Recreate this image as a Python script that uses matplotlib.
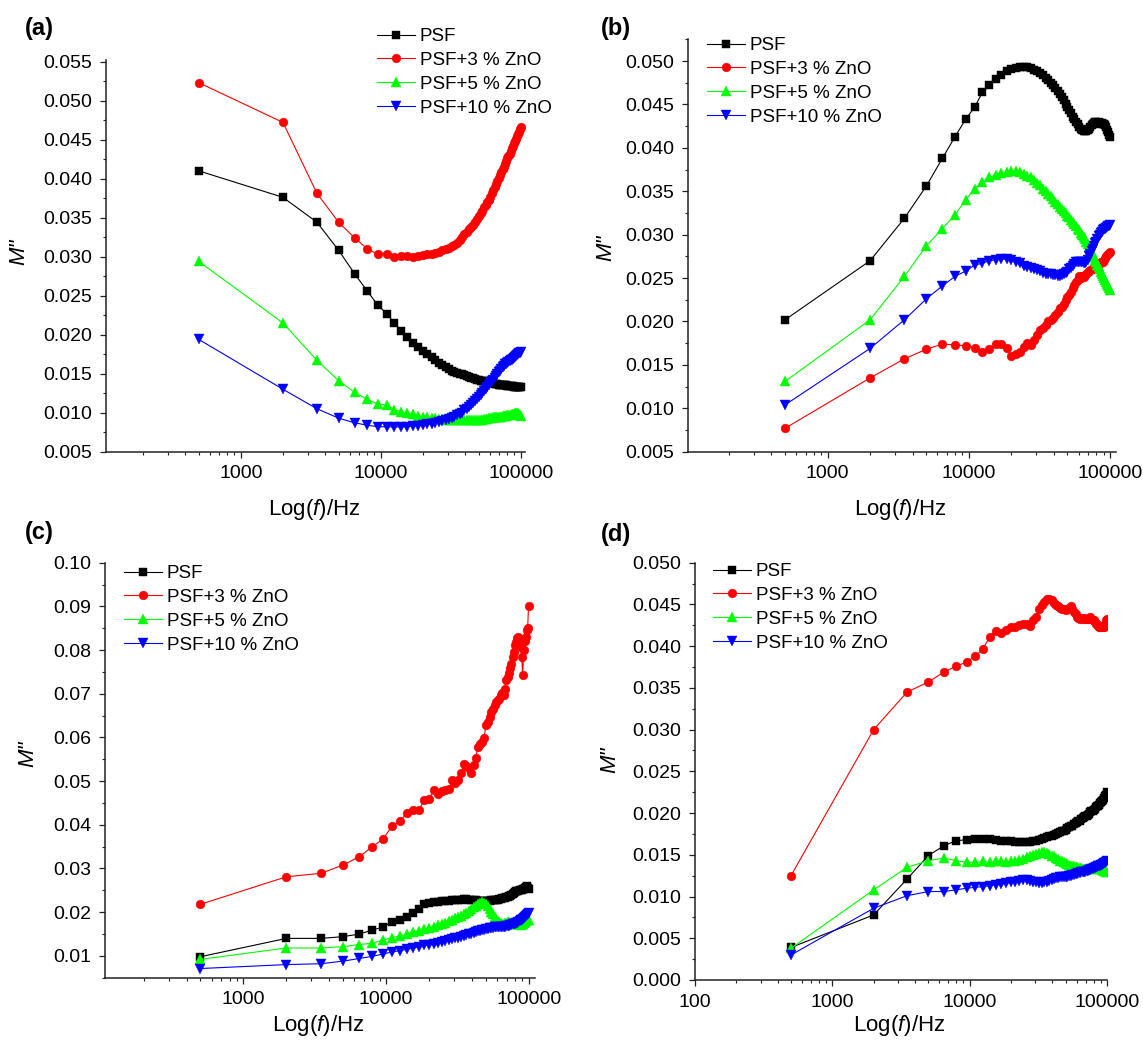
import matplotlib
matplotlib.use("Agg")
import matplotlib.pyplot as plt
from matplotlib.ticker import LogLocator, MultipleLocator, FormatStrFormatter, FuncFormatter, NullFormatter

plt.rcParams['font.family'] = ['Liberation Sans', 'DejaVu Sans']
plt.rcParams['mathtext.fontset'] = 'custom'
plt.rcParams['mathtext.rm'] = 'Liberation Sans'
plt.rcParams['mathtext.it'] = 'Liberation Sans:italic'

freq = [500, 2000, 3500, 5000, 6500, 8000, 9500, 11000, 12500, 14000,
        15500, 17000, 18500, 20000, 21500, 23000, 24500, 26000, 27500, 29000,
        30500, 32000, 33500, 35000, 36500, 38000, 39500, 41000, 42500, 44000,
        45500, 47000, 48500, 50000, 51500, 53000, 54500, 56000, 57500, 59000,
        60500, 62000, 63500, 65000, 66500, 68000, 69500, 71000, 72500, 74000,
        75500, 77000, 78500, 80000, 81500, 83000, 84500, 86000, 87500, 89000,
        90500, 92000, 93500, 95000, 96500, 98000, 99500]

series_names = ["PSF", "PSF+3 % ZnO", "PSF+5 % ZnO", "PSF+10 % ZnO"]

# ---------------- panel (a)
a_psf = [0.0410, 0.0376, 0.0344, 0.0308, 0.0278, 0.0256, 0.0238, 0.0227, 0.0215, 0.0205,
         0.0197, 0.0189, 0.0184, 0.0179, 0.0175, 0.0171, 0.0167, 0.0164, 0.0161, 0.0158,
         0.0156, 0.0154, 0.0152, 0.0151, 0.0150, 0.0149, 0.0148, 0.0147, 0.0146, 0.0145,
         0.0144, 0.0143, 0.0142, 0.0142, 0.0141, 0.0141, 0.0140, 0.0140, 0.0139, 0.0139,
         0.0138, 0.0138, 0.0138, 0.0137, 0.0137, 0.0137, 0.0136, 0.0136, 0.0136, 0.0135,
         0.0135, 0.0135, 0.0135, 0.0134, 0.0134, 0.0134, 0.0134, 0.0134, 0.0134, 0.0133,
         0.0133, 0.0133, 0.0133, 0.0133, 0.0133, 0.0133, 0.0133]
a_zno3 = [0.0523, 0.0472, 0.0381, 0.0344, 0.0324, 0.0310, 0.0303, 0.0304, 0.0299, 0.0301,
          0.0301, 0.0300, 0.0301, 0.0302, 0.0303, 0.0304, 0.0305, 0.0306, 0.0308, 0.0310,
          0.0311, 0.0313, 0.0315, 0.0318, 0.0321, 0.0325, 0.0329, 0.0332, 0.0335, 0.0338,
          0.0341, 0.0344, 0.0348, 0.0352, 0.0356, 0.0359, 0.0363, 0.0366, 0.0370, 0.0373,
          0.0377, 0.0381, 0.0385, 0.0389, 0.0393, 0.0397, 0.0401, 0.0405, 0.0408, 0.0412,
          0.0415, 0.0419, 0.0422, 0.0426, 0.0429, 0.0432, 0.0436, 0.0439, 0.0442, 0.0445,
          0.0448, 0.0451, 0.0454, 0.0457, 0.0460, 0.0463, 0.0466]
a_zno5 = [0.0294, 0.0215, 0.0167, 0.0141, 0.0126, 0.0117, 0.0111, 0.0110, 0.0104, 0.0101,
          0.0099, 0.0098, 0.0096, 0.0095, 0.0094, 0.0093, 0.0093, 0.0092, 0.0092, 0.0091,
          0.0091, 0.0091, 0.0090, 0.0090, 0.0090, 0.0090, 0.0090, 0.0090, 0.0090, 0.0090,
          0.0090, 0.0090, 0.0091, 0.0091, 0.0091, 0.0091, 0.0092, 0.0092, 0.0092, 0.0093,
          0.0093, 0.0093, 0.0094, 0.0094, 0.0094, 0.0095, 0.0095, 0.0095, 0.0095, 0.0096,
          0.0096, 0.0096, 0.0096, 0.0097, 0.0097, 0.0097, 0.0097, 0.0098, 0.0098, 0.0098,
          0.0099, 0.0099, 0.0100, 0.0099, 0.0098, 0.0097, 0.0096]
a_zno10 = [0.0194, 0.0130, 0.0105, 0.0093, 0.0087, 0.0084, 0.0082, 0.0082, 0.0082, 0.0082,
           0.0082, 0.0083, 0.0083, 0.0084, 0.0085, 0.0086, 0.0087, 0.0088, 0.0089, 0.0090,
           0.0092, 0.0093, 0.0095, 0.0097, 0.0098, 0.0100, 0.0103, 0.0105, 0.0107, 0.0110,
           0.0112, 0.0115, 0.0117, 0.0120, 0.0123, 0.0125, 0.0128, 0.0130, 0.0133, 0.0135,
           0.0138, 0.0140, 0.0142, 0.0144, 0.0147, 0.0149, 0.0152, 0.0154, 0.0156, 0.0158,
           0.0160, 0.0162, 0.0163, 0.0164, 0.0165, 0.0166, 0.0167, 0.0168, 0.0169, 0.0170,
           0.0172, 0.0173, 0.0174, 0.0175, 0.0176, 0.0177, 0.0178]

# ---------------- panel (b)
b_psf = [0.0202, 0.0270, 0.0319, 0.0356, 0.0388, 0.0413, 0.0433, 0.0447, 0.0464, 0.0472,
         0.0479, 0.0484, 0.0488, 0.0491, 0.0492, 0.0493, 0.0493, 0.0493, 0.0492, 0.0490,
         0.0488, 0.0486, 0.0484, 0.0481, 0.0478, 0.0475, 0.0472, 0.0469, 0.0466, 0.0462,
         0.0458, 0.0455, 0.0451, 0.0447, 0.0443, 0.0440, 0.0436, 0.0433, 0.0430, 0.0427,
         0.0424, 0.0422, 0.0420, 0.0419, 0.0419, 0.0419, 0.0420, 0.0422, 0.0424, 0.0426,
         0.0428, 0.0429, 0.0430, 0.0430, 0.0429, 0.0430, 0.0429, 0.0428, 0.0429, 0.0428,
         0.0427, 0.0426, 0.0424, 0.0421, 0.0418, 0.0415, 0.0413]
b_zno3 = [0.0077, 0.0135, 0.0157, 0.0168, 0.0174, 0.0173, 0.0172, 0.0170, 0.0165, 0.0168,
          0.0174, 0.0174, 0.0169, 0.0160, 0.0163, 0.0165, 0.0171, 0.0175, 0.0173, 0.0179,
          0.0184, 0.0190, 0.0193, 0.0196, 0.0200, 0.0202, 0.0204, 0.0207, 0.0211, 0.0215,
          0.0217, 0.0220, 0.0225, 0.0228, 0.0230, 0.0234, 0.0238, 0.0242, 0.0246, 0.0248,
          0.0252, 0.0250, 0.0252, 0.0251, 0.0253, 0.0255, 0.0257, 0.0258, 0.0259, 0.0260,
          0.0261, 0.0263, 0.0263, 0.0264, 0.0265, 0.0266, 0.0267, 0.0268, 0.0268, 0.0269,
          0.0271, 0.0273, 0.0275, 0.0276, 0.0278, 0.0279, 0.0280]
b_zno5 = [0.0131, 0.0202, 0.0252, 0.0287, 0.0307, 0.0323, 0.0340, 0.0353, 0.0361, 0.0366,
          0.0369, 0.0371, 0.0372, 0.0373, 0.0373, 0.0372, 0.0370, 0.0368, 0.0366, 0.0363,
          0.0360, 0.0357, 0.0353, 0.0350, 0.0347, 0.0344, 0.0341, 0.0338, 0.0335, 0.0332,
          0.0330, 0.0327, 0.0325, 0.0322, 0.0320, 0.0317, 0.0315, 0.0312, 0.0310, 0.0307,
          0.0305, 0.0302, 0.0300, 0.0297, 0.0295, 0.0292, 0.0289, 0.0286, 0.0283, 0.0280,
          0.0277, 0.0274, 0.0271, 0.0268, 0.0265, 0.0263, 0.0260, 0.0257, 0.0255, 0.0252,
          0.0250, 0.0248, 0.0245, 0.0243, 0.0241, 0.0239, 0.0236]
b_zno10 = [0.0104, 0.0169, 0.0202, 0.0226, 0.0241, 0.0252, 0.0258, 0.0265, 0.0267, 0.0270,
           0.0271, 0.0272, 0.0272, 0.0271, 0.0269, 0.0267, 0.0264, 0.0263, 0.0262, 0.0260,
           0.0259, 0.0258, 0.0256, 0.0255, 0.0255, 0.0255, 0.0254, 0.0253, 0.0252, 0.0252,
           0.0253, 0.0255, 0.0256, 0.0257, 0.0260, 0.0262, 0.0264, 0.0266, 0.0268, 0.0269,
           0.0269, 0.0269, 0.0268, 0.0267, 0.0267, 0.0268, 0.0271, 0.0275, 0.0278, 0.0281,
           0.0284, 0.0287, 0.0290, 0.0292, 0.0295, 0.0298, 0.0300, 0.0302, 0.0303, 0.0305,
           0.0306, 0.0307, 0.0308, 0.0309, 0.0310, 0.0310, 0.0311]

# ---------------- panel (c)
c_psf = [0.0098, 0.0140, 0.0140, 0.0144, 0.0150, 0.0159, 0.0166, 0.0178, 0.0182, 0.0189,
         0.0197, 0.0208, 0.0218, 0.0222, 0.0224, 0.0224, 0.0225, 0.0226, 0.0225, 0.0227,
         0.0228, 0.0228, 0.0229, 0.0230, 0.0230, 0.0229, 0.0228, 0.0227, 0.0227, 0.0226,
         0.0226, 0.0225, 0.0225, 0.0225, 0.0226, 0.0226, 0.0227, 0.0227, 0.0228, 0.0228,
         0.0229, 0.0230, 0.0231, 0.0232, 0.0233, 0.0233, 0.0234, 0.0235, 0.0236, 0.0238,
         0.0240, 0.0242, 0.0245, 0.0247, 0.0248, 0.0248, 0.0249, 0.0250, 0.0250, 0.0251,
         0.0252, 0.0254, 0.0256, 0.0258, 0.0259, 0.0256, 0.0253]
c_zno3 = [0.0218, 0.0281, 0.0289, 0.0308, 0.0327, 0.0350, 0.0367, 0.0397, 0.0408, 0.0427,
          0.0434, 0.0435, 0.0456, 0.0460, 0.0479, 0.0470, 0.0478, 0.0479, 0.0481, 0.0502,
          0.0495, 0.0502, 0.0518, 0.0539, 0.0534, 0.0529, 0.0518, 0.0537, 0.0554, 0.0579,
          0.0585, 0.0590, 0.0598, 0.0628, 0.0636, 0.0647, 0.0659, 0.0666, 0.0674, 0.0682,
          0.0685, 0.0689, 0.0697, 0.0701, 0.0697, 0.0712, 0.0731, 0.0739, 0.0747, 0.0758,
          0.0769, 0.0785, 0.0796, 0.0811, 0.0819, 0.0827, 0.0831, 0.0819, 0.0808, 0.0785,
          0.0742, 0.0800, 0.0820, 0.0830, 0.0845, 0.0850, 0.0902]
c_zno5 = [0.0092, 0.0118, 0.0118, 0.0121, 0.0126, 0.0129, 0.0136, 0.0142, 0.0145, 0.0150,
          0.0155, 0.0158, 0.0161, 0.0164, 0.0167, 0.0170, 0.0173, 0.0176, 0.0179, 0.0182,
          0.0186, 0.0189, 0.0192, 0.0196, 0.0199, 0.0203, 0.0207, 0.0211, 0.0215, 0.0219,
          0.0222, 0.0224, 0.0222, 0.0218, 0.0213, 0.0207, 0.0201, 0.0195, 0.0189, 0.0184,
          0.0180, 0.0177, 0.0175, 0.0174, 0.0174, 0.0175, 0.0176, 0.0177, 0.0177, 0.0176,
          0.0175, 0.0174, 0.0173, 0.0172, 0.0172, 0.0173, 0.0173, 0.0172, 0.0171, 0.0172,
          0.0173, 0.0175, 0.0177, 0.0179, 0.0181, 0.0182, 0.0183]
c_zno10 = [0.0071, 0.0080, 0.0082, 0.0088, 0.0094, 0.0099, 0.0104, 0.0109, 0.0112, 0.0115,
           0.0118, 0.0121, 0.0124, 0.0126, 0.0128, 0.0130, 0.0132, 0.0134, 0.0136, 0.0138,
           0.0140, 0.0141, 0.0143, 0.0145, 0.0147, 0.0149, 0.0151, 0.0153, 0.0155, 0.0156,
           0.0158, 0.0159, 0.0160, 0.0161, 0.0162, 0.0163, 0.0164, 0.0164, 0.0165, 0.0165,
           0.0166, 0.0166, 0.0166, 0.0167, 0.0167, 0.0167, 0.0168, 0.0168, 0.0169, 0.0170,
           0.0171, 0.0172, 0.0173, 0.0174, 0.0175, 0.0176, 0.0177, 0.0179, 0.0181, 0.0183,
           0.0185, 0.0187, 0.0189, 0.0191, 0.0193, 0.0195, 0.0197]

# ---------------- panel (d)
d_psf = [0.0039, 0.0078, 0.0121, 0.0149, 0.0161, 0.0167, 0.0168, 0.0169, 0.0169, 0.0169,
         0.0168, 0.0167, 0.0166, 0.0166, 0.0165, 0.0165, 0.0165, 0.0165, 0.0165, 0.0166,
         0.0167, 0.0168, 0.0169, 0.0170, 0.0171, 0.0172, 0.0173, 0.0174, 0.0175, 0.0176,
         0.0177, 0.0178, 0.0179, 0.0180, 0.0182, 0.0183, 0.0184, 0.0185, 0.0187, 0.0188,
         0.0189, 0.0190, 0.0191, 0.0193, 0.0194, 0.0195, 0.0196, 0.0197, 0.0198, 0.0199,
         0.0201, 0.0202, 0.0203, 0.0204, 0.0205, 0.0207, 0.0208, 0.0209, 0.0210, 0.0212,
         0.0213, 0.0215, 0.0216, 0.0218, 0.0220, 0.0222, 0.0225]
d_zno3 = [0.0125, 0.0300, 0.0345, 0.0357, 0.0369, 0.0376, 0.0381, 0.0388, 0.0397, 0.0411,
          0.0418, 0.0416, 0.0419, 0.0423, 0.0423, 0.0425, 0.0427, 0.0427, 0.0424, 0.0431,
          0.0435, 0.0444, 0.0449, 0.0453, 0.0456, 0.0457, 0.0455, 0.0452, 0.0449, 0.0448,
          0.0446, 0.0444, 0.0445, 0.0443, 0.0444, 0.0446, 0.0448, 0.0445, 0.0441, 0.0438,
          0.0435, 0.0434, 0.0433, 0.0434, 0.0433, 0.0434, 0.0433, 0.0432, 0.0433, 0.0434,
          0.0435, 0.0433, 0.0431, 0.0431, 0.0429, 0.0427, 0.0427, 0.0424, 0.0423, 0.0423,
          0.0423, 0.0424, 0.0423, 0.0423, 0.0427, 0.0431, 0.0433]
d_zno5 = [0.0038, 0.0108, 0.0135, 0.0143, 0.0146, 0.0143, 0.0141, 0.0141, 0.0142, 0.0141,
          0.0142, 0.0142, 0.0141, 0.0142, 0.0143, 0.0144, 0.0145, 0.0147, 0.0148, 0.0150,
          0.0151, 0.0152, 0.0153, 0.0153, 0.0152, 0.0151, 0.0149, 0.0148, 0.0146, 0.0145,
          0.0143, 0.0142, 0.0141, 0.0140, 0.0139, 0.0138, 0.0137, 0.0136, 0.0136, 0.0135,
          0.0135, 0.0134, 0.0134, 0.0134, 0.0133, 0.0133, 0.0133, 0.0133, 0.0133, 0.0133,
          0.0133, 0.0134, 0.0134, 0.0134, 0.0134, 0.0134, 0.0134, 0.0134, 0.0133, 0.0133,
          0.0133, 0.0132, 0.0132, 0.0131, 0.0131, 0.0130, 0.0130]
d_zno10 = [0.0030, 0.0086, 0.0101, 0.0106, 0.0106, 0.0108, 0.0110, 0.0111, 0.0112, 0.0113,
           0.0114, 0.0115, 0.0116, 0.0117, 0.0118, 0.0119, 0.0120, 0.0120, 0.0119, 0.0118,
           0.0117, 0.0116, 0.0116, 0.0117, 0.0118, 0.0119, 0.0120, 0.0121, 0.0122, 0.0122,
           0.0123, 0.0123, 0.0124, 0.0124, 0.0124, 0.0125, 0.0125, 0.0126, 0.0126, 0.0127,
           0.0127, 0.0128, 0.0128, 0.0129, 0.0129, 0.0130, 0.0130, 0.0131, 0.0131, 0.0132,
           0.0132, 0.0133, 0.0133, 0.0134, 0.0134, 0.0135, 0.0135, 0.0136, 0.0136, 0.0137,
           0.0138, 0.0138, 0.0139, 0.0140, 0.0140, 0.0141, 0.0142]

W, H = 1143, 1043
fig = plt.figure(figsize=(W / 100, H / 100), dpi=100)

colors = ["#000000", "#ff0000", "#00ff00", "#0000ff"]
markers = ["s", "o", "^", "v"]
msizes = [5.6, 6.3, 6.8, 6.8]

# axes rectangles in pixels: left, right, top, bottom
panels = [
    dict(tag="(a)", rect=(106, 525, 60, 451.7), data=[a_psf, a_zno3, a_zno5, a_zno10],
         xlim=(109, 107000), ylim=(0.005, 0.0552), ymaj=0.005, fmt="%.3f",
         ylab=(-0.184, 0.51), xlabtop=497, leg=(377, 28), tagpos=(25, 28)),
    dict(tag="(b)", rect=(687.7, 1115.6, 39.3, 451.7), data=[b_psf, b_zno3, b_zno5, b_zno10],
         xlim=(102, 109600), ylim=(0.005, 0.0525), ymaj=0.005, fmt="%.3f",
         ylab=(-0.168, 0.494), xlabtop=497, leg=(707, 37), tagpos=(601, 28)),
    dict(tag="(c)", rect=(104.8, 534.8, 562.7, 977.7), data=[c_psf, c_zno3, c_zno5, c_zno10],
         xlim=(107, 110000), ylim=(0.005, 0.10), ymaj=0.01, fmt="%.2f",
         ylab=(-0.155, 0.54), xlabtop=1013, leg=(124, 565), tagpos=(25, 532)),
    dict(tag="(d)", rect=(695, 1107, 562.7, 980), data=[d_psf, d_zno3, d_zno5, d_zno10],
         xlim=(100, 100000), ylim=(0.0, 0.050), ymaj=0.005, fmt="%.3f",
         ylab=(-0.182, 0.527), xlabtop=1013, leg=(713, 563), tagpos=(601, 534)),
]

for p in panels:
    l, r, t, b = p["rect"]
    ax = fig.add_axes([l / W, 1 - b / H, (r - l) / W, (b - t) / H])
    for k in range(4):
        ax.plot(freq, p["data"][k], color=colors[k], marker=markers[k], ms=msizes[k],
                lw=0.8, mec=colors[k], mew=0.3, label=series_names[k])
    ax.set_xscale("log")
    ax.set_xlim(*p["xlim"])
    ax.set_ylim(*p["ylim"])
    ax.spines["top"].set_visible(False)
    ax.spines["right"].set_visible(False)
    for s in ("left", "bottom"):
        ax.spines[s].set_linewidth(1.1)
        ax.spines[s].set_color("#222222")
    ax.xaxis.set_major_locator(LogLocator(base=10, numticks=10))
    ax.xaxis.set_minor_locator(LogLocator(base=10, subs=[2, 3, 4, 5, 6, 7, 8, 9], numticks=20))
    ax.xaxis.set_major_formatter(FuncFormatter(lambda v, pos: "%d" % round(v)))
    ax.xaxis.set_minor_formatter(NullFormatter())
    ax.yaxis.set_major_locator(MultipleLocator(p["ymaj"]))
    ax.yaxis.set_minor_locator(MultipleLocator(p["ymaj"] / 2))
    ax.yaxis.set_major_formatter(FormatStrFormatter(p["fmt"]))
    ax.tick_params(which="major", direction="out", length=4.3, width=0.9, labelsize=14,
                   pad=5.5, color="#222222")
    ax.tick_params(which="minor", direction="out", length=2.4, width=0.8, color="#222222")
    ax.set_ylabel('M"', fontsize=16, style="italic")
    ax.yaxis.set_label_coords(*p["ylab"])
    ax.set_xlabel("Log($f$)/Hz", fontsize=16)
    ax.xaxis.set_label_coords(0.496, (b - p["xlabtop"]) / (b - t))
    ax.xaxis.label.set_va("top")
    lx, ly = p["leg"]
    ax.legend(loc="upper left", bbox_to_anchor=(lx / W, 1 - ly / H), bbox_transform=fig.transFigure,
              frameon=False, fontsize=13.5, borderpad=0, borderaxespad=0, handlelength=2.0,
              handletextpad=0.27, labelspacing=0.36, numpoints=1)
    tx, ty = p["tagpos"]
    fig.text(tx / W, 1 - ty / H, p["tag"], fontsize=17, fontweight="bold", va="center", ha="left")

fig.savefig("out.png", dpi=100)
